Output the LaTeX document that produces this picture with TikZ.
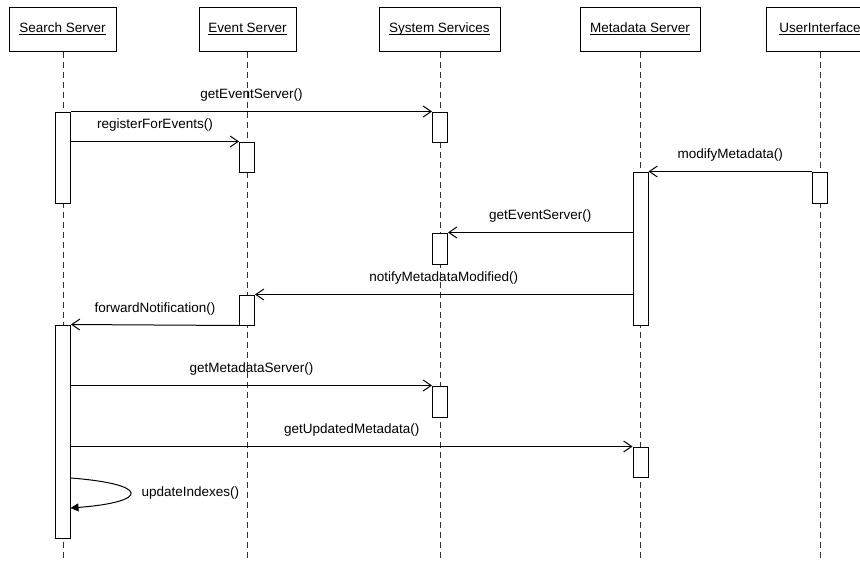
\documentclass[tikz,border=0pt]{standalone}
\usepackage{fontspec}
\setmainfont{Liberation Sans}
\usetikzlibrary{arrows.meta}
% underlined object name with a rule of 1pt
\newcommand\objname[1]{\setbox0\hbox{#1}\rlap{\rule[-2.2pt]{\wd0}{1pt}}\box0}
\begin{document}
\begin{tikzpicture}[x=1pt,y=-1pt,
  font=\fontsize{13.5}{16}\selectfont,
  line width=1pt,
  header/.style={draw, fill=white, minimum height=44pt, inner sep=0pt},
  lifeline/.style={draw=black!80, dash pattern=on 6pt off 4pt},
  act/.style={draw, fill=white, minimum width=15pt, inner sep=0pt},
  msg/.style={-{Straight Barb[length=8pt,width=11pt]}},
  msglabel/.style={anchor=base, inner sep=0pt, yshift=13pt},
  selfmsg/.style={-{Triangle[length=8pt,width=8pt]}}
]
\clip (0,0) rectangle (860,560);
\useasboundingbox (0,0) rectangle (860,560);

% object headers
\node[header, minimum width=107pt] (hs) at (62.5,29) {\objname{Search Server}};
\node[header, minimum width=97pt]  (he) at (247.5,29) {\objname{Event Server}};
\node[header, minimum width=121pt] (hy) at (439.5,29) {\objname{System Services}};
\node[header, minimum width=120pt] (hm) at (640,29) {\objname{Metadata Server}};
\node[header, minimum width=108pt] (hu) at (820,29) {\objname{UserInterface}};

% lifelines
\coordinate (ls) at (63,560);
\coordinate (le) at (247,560);
\coordinate (ly) at (440,560);
\coordinate (lm) at (640,560);
\coordinate (lu) at (820,560);
\draw[lifeline] (hs.south -| ls) -- (ls);
\draw[lifeline] (he.south -| le) -- (le);
\draw[lifeline] (hy.south -| ly) -- (ly);
\draw[lifeline] (hm.south -| lm) -- (lm);
\draw[lifeline] (hu.south -| lu) -- (lu);

% activation bars
\node[act, minimum height=91pt]  (sa1) at (63,157.5) {};
\node[act, minimum height=30pt]  (ss1) at (440,127) {};
\node[act, minimum height=30pt]  (es1) at (247,157) {};
\node[act, minimum height=31pt]  (ui1) at (820,187.5) {};
\node[act, minimum height=153pt] (md1) at (640.5,248.5) {};
\node[act, minimum height=31pt]  (ss2) at (440,248.5) {};
\node[act, minimum height=30pt]  (es2) at (247,310) {};
\node[act, minimum height=213pt] (sa2) at (63,431.5) {};
\node[act, minimum height=31pt]  (ss3) at (440,401.5) {};
\node[act, minimum height=30pt]  (md2) at (640.5,462) {};

% messages
\draw[msg] (sa1.north east) -- node[msglabel]{getEventServer()} (ss1.north west);
\draw[msg] (sa1.east |- es1.north) -- node[msglabel]{registerForEvents()} (es1.north west);
\draw[msg] (ui1.north west) -- node[msglabel]{modifyMetadata()} (md1.north east);
\draw[msg] (md1.west |- ss2.north) -- node[msglabel]{getEventServer()} (ss2.north east);
\draw[msg] (md1.west |- es2.north) -- node[msglabel]{notifyMetadataModified()} (es2.north east);
\draw[msg] (es2.south west) -- node[msglabel]{forwardNotification()} (sa2.north east);
\draw[msg] (sa2.east |- ss3.north) -- node[msglabel]{getMetadataServer()} (ss3.north west);
\draw[msg] (sa2.east |- md2.north) -- node[msglabel]{getUpdatedMetadata()} (md2.north west);

% self call
\coordinate (selfout) at (70.5,478);
\coordinate (selfin) at (70.5,508);
\draw[selfmsg] (selfout) .. controls (150,484) and (150,502) .. (selfin);
\node[anchor=base west, inner sep=0pt] (selflabel) at (141,496) {updateIndexes()};
\end{tikzpicture}
\end{document}
